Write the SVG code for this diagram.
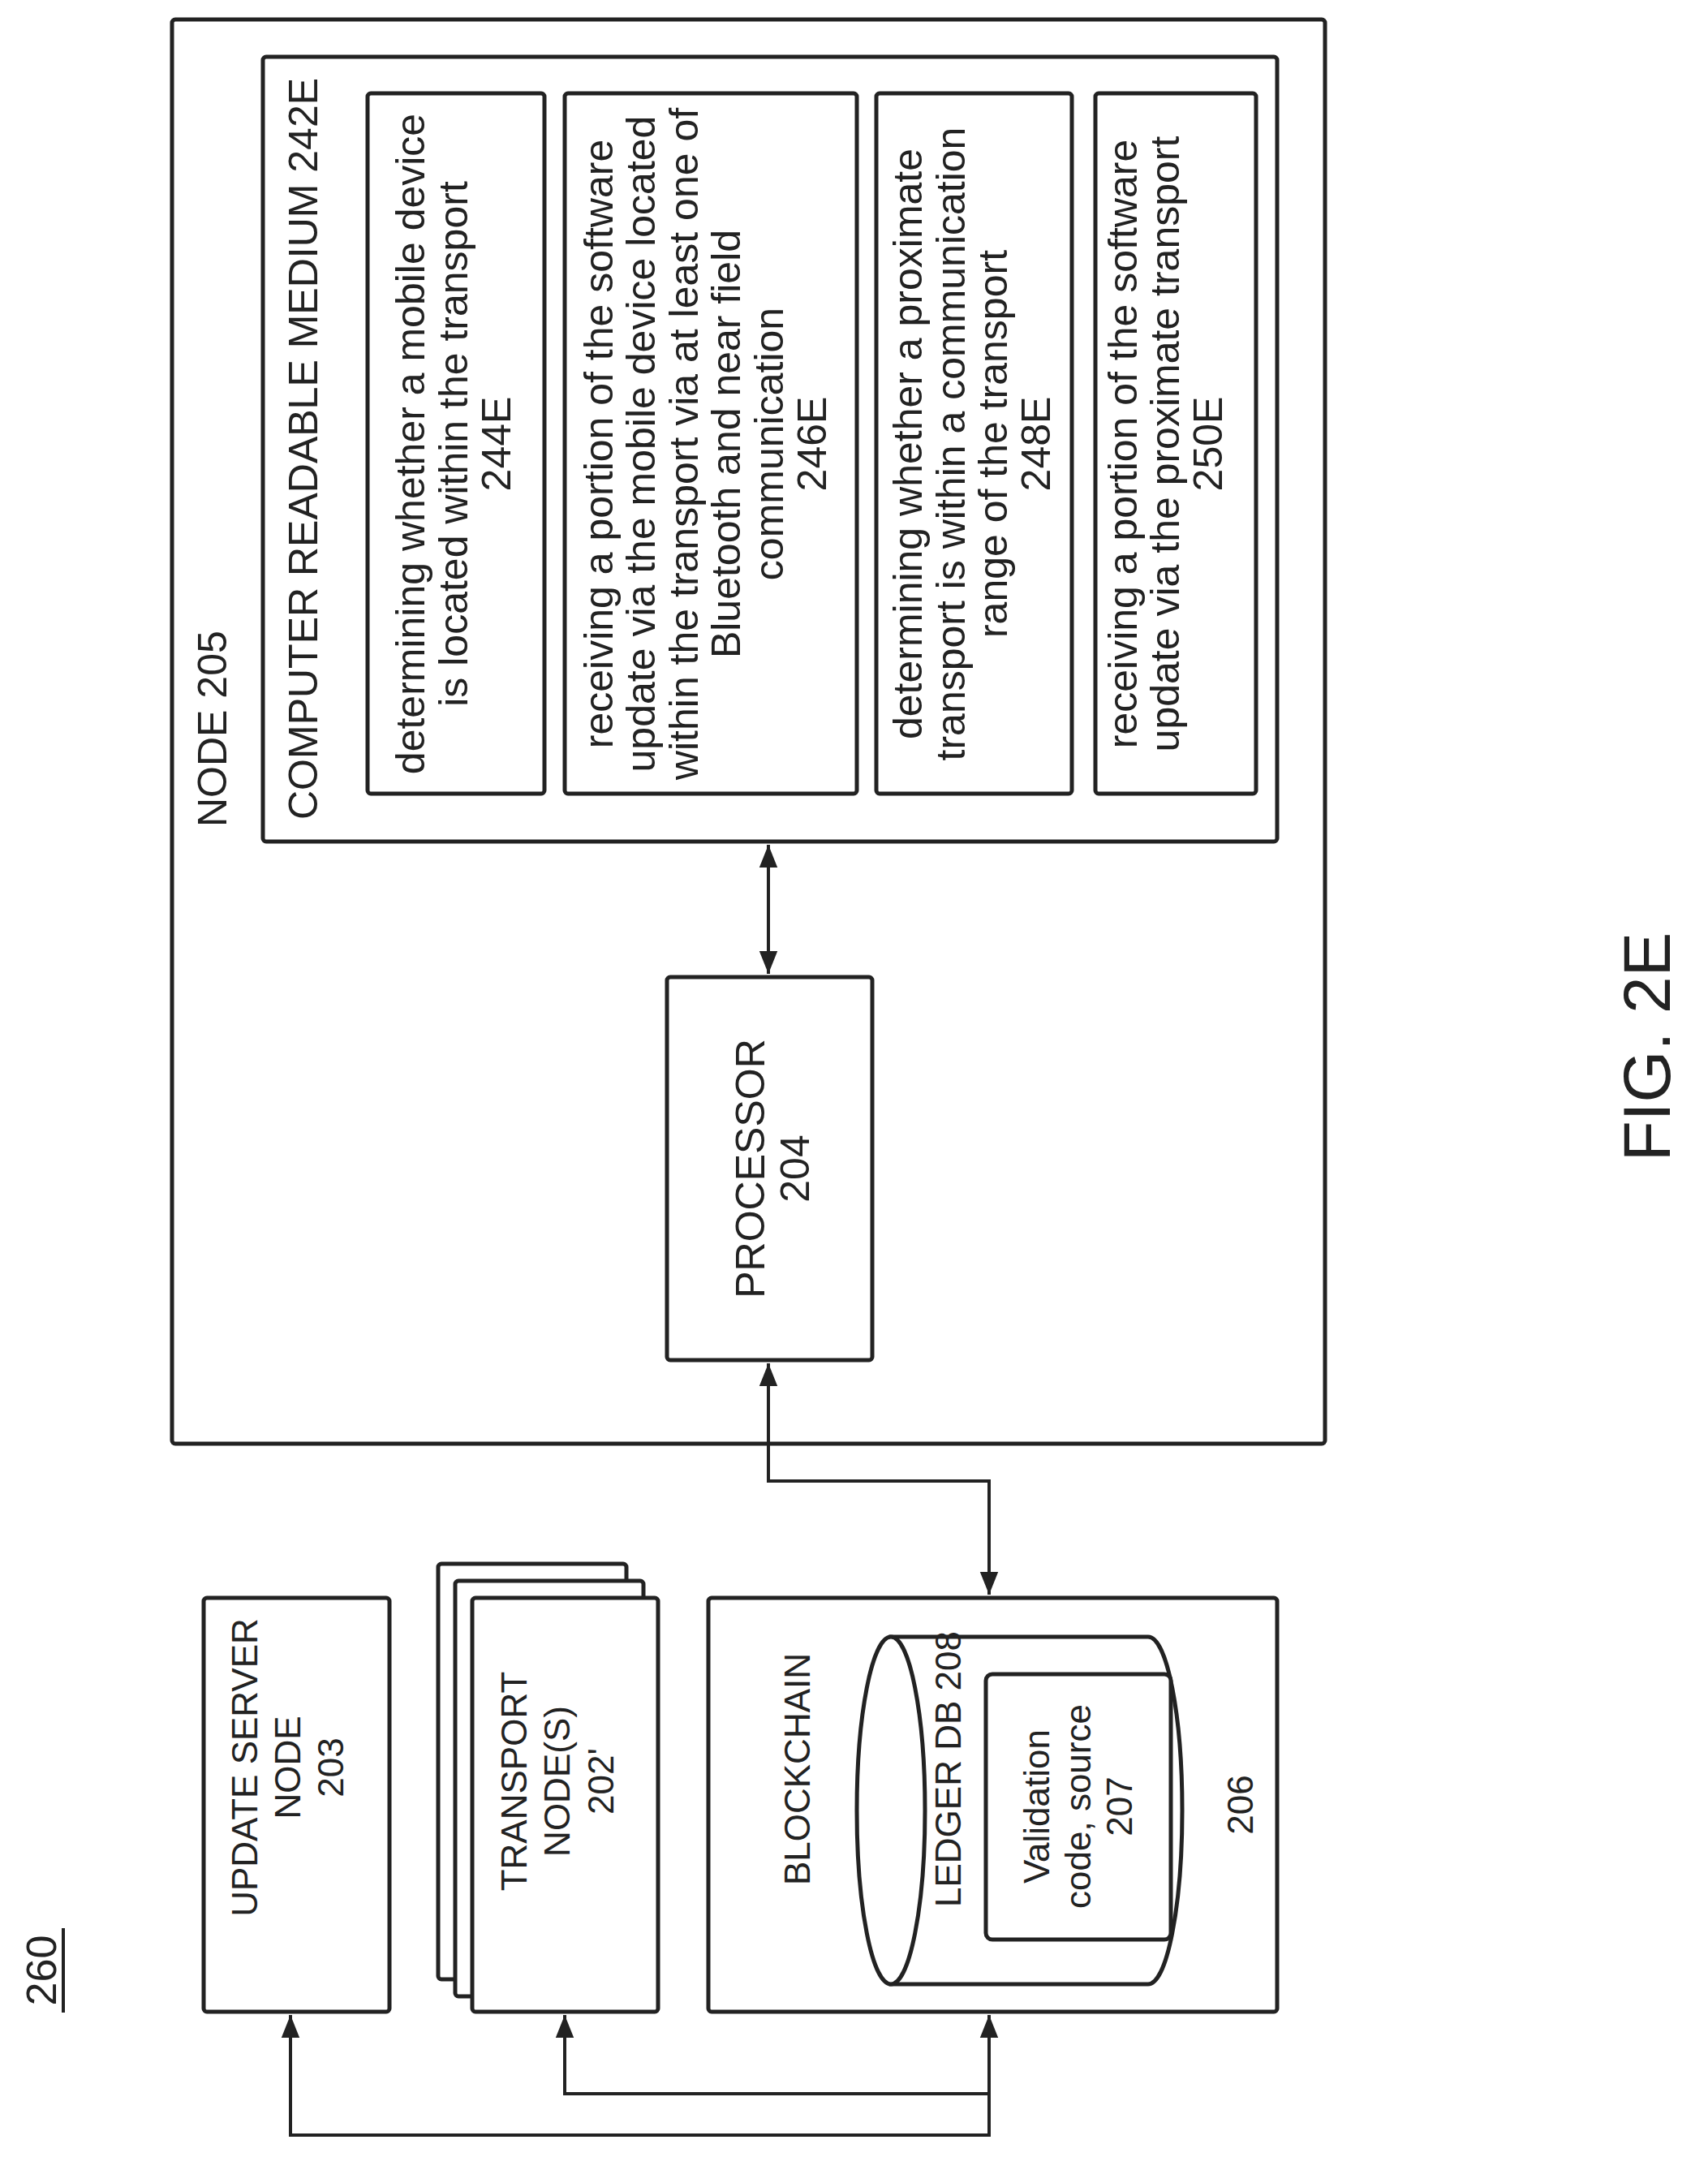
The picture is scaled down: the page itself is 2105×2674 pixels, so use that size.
<svg xmlns="http://www.w3.org/2000/svg" width="2105" height="2674" viewBox="0 0 2105 2674">
<style>
.b{fill:#fff;stroke:#222;stroke-width:5}
.t{font-family:"Liberation Sans",Arial,sans-serif;font-size:50px;fill:#222;text-anchor:middle;dominant-baseline:central}
.s{font-size:44px}
.c{fill:none;stroke:#222;stroke-width:4}
</style>
<defs><marker id="a" viewBox="0 0 10 10" refX="10" refY="5" markerWidth="7" markerHeight="7" orient="auto-start-reverse"><path d="M0,1 L10,5 L0,9 z" fill="#222"/></marker></defs>
<rect width="2105" height="2674" fill="#fff"/>
<g id="label260"><text class="t" x="51" y="2428" transform="rotate(-90 51 2428)" style="font-size:52px">260</text><line x1="78" y1="2376" x2="78" y2="2480" stroke="#222" stroke-width="4"/></g>
<g id="fig"><text class="t" x="2029" y="1290" transform="rotate(-90 2029 1290)" style="font-size:82px">FIG. 2E</text></g>
<g id="node205"><rect class="b" x="212" y="24" width="1421" height="1755" rx="4"/>
<text class="t" x="262" y="1019" transform="rotate(-90 262 1019)" style="text-anchor:start">NODE 205</text></g>
<g id="crm"><rect class="b" x="324" y="70" width="1250" height="967" rx="4"/>
<text class="t" x="374" y="1010" transform="rotate(-90 374 1010)" style="text-anchor:start">COMPUTER READABLE MEDIUM 242E</text></g>
<g id="n244"><rect class="b" x="453" y="115" width="218" height="863" rx="4"/>
<text class="t" x="506" y="547" transform="rotate(-90 506 547)">determining whether a mobile device</text>
<text class="t" x="559" y="547" transform="rotate(-90 559 547)">is located within the transport</text>
<text class="t" x="612" y="547" transform="rotate(-90 612 547)">244E</text></g>
<g id="n246"><rect class="b" x="696" y="115" width="360" height="863" rx="4"/>
<text class="t" x="738" y="547" transform="rotate(-90 738 547)">receiving a portion of the software</text>
<text class="t" x="790" y="547" transform="rotate(-90 790 547)">update via the mobile device located</text>
<text class="t" x="843" y="547" transform="rotate(-90 843 547)">within the transport via at least one of</text>
<text class="t" x="895" y="547" transform="rotate(-90 895 547)">Bluetooth and near field</text>
<text class="t" x="948" y="547" transform="rotate(-90 948 547)">communication</text>
<text class="t" x="1001" y="547" transform="rotate(-90 1001 547)">246E</text></g>
<g id="n248"><rect class="b" x="1080" y="115" width="241" height="863" rx="4"/>
<text class="t" x="1119" y="547" transform="rotate(-90 1119 547)">determining whether a proximate</text>
<text class="t" x="1172" y="547" transform="rotate(-90 1172 547)">transport is within a communication</text>
<text class="t" x="1224" y="547" transform="rotate(-90 1224 547)">range of the transport</text>
<text class="t" x="1277" y="547" transform="rotate(-90 1277 547)">248E</text></g>
<g id="n250"><rect class="b" x="1350" y="115" width="198" height="863" rx="4"/>
<text class="t" x="1384" y="547" transform="rotate(-90 1384 547)">receiving a portion of the software</text>
<text class="t" x="1436" y="547" transform="rotate(-90 1436 547)">update via the proximate transport</text>
<text class="t" x="1489" y="547" transform="rotate(-90 1489 547)">250E</text></g>
<g id="processor"><rect class="b" x="822" y="1204" width="253" height="472" rx="4"/>
<text class="t" x="925" y="1440" transform="rotate(-90 925 1440)">PROCESSOR</text>
<text class="t" x="980" y="1440" transform="rotate(-90 980 1440)">204</text></g>
<g id="update"><rect class="b" x="251" y="1969" width="229" height="510" rx="4"/>
<text class="t s" x="301" y="2178" transform="rotate(-90 301 2178)">UPDATE SERVER</text>
<text class="t s" x="354" y="2178" transform="rotate(-90 354 2178)">NODE</text>
<text class="t s" x="407" y="2178" transform="rotate(-90 407 2178)">203</text></g>
<g id="transport"><rect class="b" x="540" y="1927" width="232" height="512" rx="4"/>
<rect class="b" x="561" y="1948" width="232" height="512" rx="4"/>
<rect class="b" x="582" y="1969" width="229" height="510" rx="4"/>
<text class="t s" x="633" y="2195" transform="rotate(-90 633 2195)">TRANSPORT</text>
<text class="t s" x="686" y="2195" transform="rotate(-90 686 2195)">NODE(S)</text>
<text class="t s" x="740" y="2195" transform="rotate(-90 740 2195)">202'</text></g>
<g id="blockchain"><rect class="b" x="873" y="1969" width="701" height="510" rx="4"/>
<text class="t s" x="982" y="2180" transform="rotate(-90 982 2180)">BLOCKCHAIN</text>
<text class="t s" x="1528" y="2224" transform="rotate(-90 1528 2224)">206</text></g>
<g id="ledger"><path class="b" d="M1098,2017 L1415,2017 A42,214 0 0 1 1415,2445 L1098,2445 Z"/>
<ellipse class="b" cx="1098" cy="2231" rx="42" ry="214"/>
<text class="t s" x="1168" y="2180" transform="rotate(-90 1168 2180)">LEDGER DB 208</text></g>
<g id="validation"><rect class="b" x="1215" y="2063" width="228" height="327" rx="8"/>
<text class="t s" x="1277" y="2226" transform="rotate(-90 1277 2226)">Validation</text>
<text class="t s" x="1328" y="2226" transform="rotate(-90 1328 2226)">code, source</text>
<text class="t s" x="1379" y="2226" transform="rotate(-90 1379 2226)">207</text></g>
<g id="connectors">
<line class="c" x1="947" y1="1041" x2="947" y2="1200" marker-start="url(#a)" marker-end="url(#a)"/>
<polyline class="c" points="947,1680 947,1825 1219,1825 1219,1965" marker-start="url(#a)" marker-end="url(#a)"/>
<polyline class="c" points="1219,2483 1219,2631 358,2631 358,2483" marker-start="url(#a)" marker-end="url(#a)"/>
<polyline class="c" points="1219,2580 696,2580 696,2483" marker-end="url(#a)"/>
</g>
</svg>
